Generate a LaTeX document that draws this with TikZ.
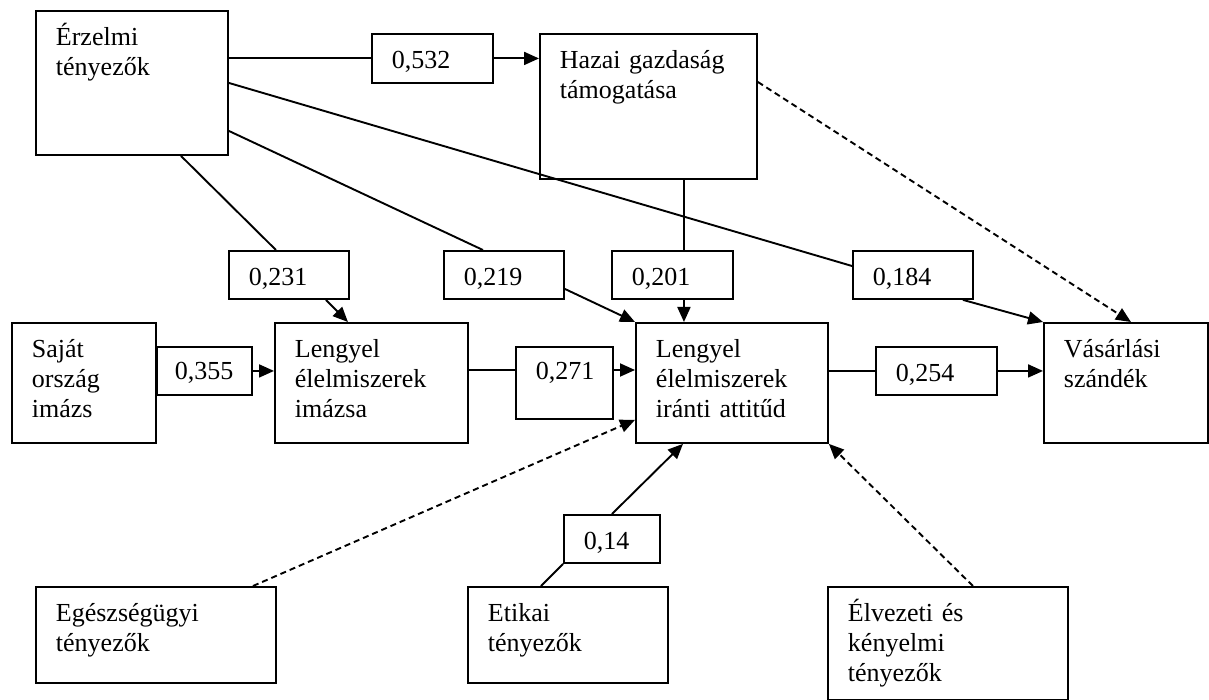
\documentclass[tikz,border=0pt]{standalone}
\usepackage{fontspec}
\setmainfont{Liberation Serif}
\usetikzlibrary{arrows.meta,calc}

\tikzset{
  box/.style={draw, line width=1.9pt, anchor=north west, inner xsep=20pt,
    inner ysep=0pt, align=left, text height=35pt,
    font=\fontsize{26pt}{30pt}\selectfont},
  conn/.style={line width=1.9pt},
  arr/.style={conn, -{Triangle[length=15pt,width=13pt]}},
  dashconn/.style={conn, dash pattern=on 6pt off 4pt},
  dasharr/.style={arr, dash pattern=on 6pt off 4pt},
}

\begin{document}
\begin{tikzpicture}[x=1pt,y=-1pt]
\useasboundingbox (0,0) rectangle (1209,700);

% factor boxes
\node[box, text width=152pt, text depth=109pt] (erz)    at (35,10)   {Érzelmi\\tényezők};
\node[box, text width=177pt, text depth=110pt] (hazai)  at (539,33)  {Hazai gazdaság\\támogatása};
\node[box, text width=104pt, text depth=85pt]  (sajat)  at (11,322)  {Saját\\ország\\imázs};
\node[box, text width=153pt, text depth=85pt]  (limazs) at (274,322) {Lengyel\\élelmiszerek\\imázsa};
\node[box, text width=152pt, text depth=85pt]  (att)    at (635,322) {Lengyel\\élelmiszerek\\iránti attitűd};
\node[box, text width=124pt, text depth=85pt]  (vas)    at (1043,322){Vásárlási\\szándék};
\node[box, text width=200pt, text depth=61pt]  (egesz)  at (35,586)  {Egészségügyi\\tényezők};
\node[box, text width=160pt, text depth=61pt]  (etik)   at (467,586) {Etikai\\tényezők};
\node[box, text width=200pt, text depth=78pt]  (elv)    at (827,586) {Élvezeti és\\kényelmi\\tényezők};

% coefficient boxes
\node[box, text width=81pt, text depth=14pt] (v532) at (371,33)  {0,532};
\node[box, text width=80pt, text depth=13pt] (v231) at (228,250) {0,231};
\node[box, text width=80pt, text depth=13pt] (v219) at (443,250) {0,219};
\node[box, text width=81pt, text depth=13pt] (v201) at (611,250) {0,201};
\node[box, text width=80pt, text depth=13pt] (v184) at (852,250) {0,184};
\node[box, inner xsep=18pt, text width=59pt, text height=33pt, text depth=15pt] (v355) at (156,346) {0,355};
\node[box, text width=57pt, text height=33pt, text depth=39pt] (v271) at (515,346) {0,271};
\node[box, text width=81pt, text depth=13pt] (v254) at (875,346) {0,254};
\node[box, text width=56pt, text depth=13pt] (v14)  at (563,514) {0,14};

% paths from the emotional factors
\draw[conn] (erz.east |- v532.west) -- (v532.west);
\draw[arr]  (v532.east) -- (v532.east -| hazai.west);
\draw[conn] (erz.east) -- ($(v184.north west)+(0,16)$);
\draw[arr]  ($(v184.south)+(50,0)$) -- (vas.north west);
\draw[conn] ($(erz.east)+(0,48)$) -- ($(v219.north)+(-21,0)$);
\draw[arr]  ($(v219.east)+(0,14)$) -- (att.north west);
\draw[conn] ($(erz.south)+(49,0)$) -- ($(v231.north)+(-13,0)$);
\draw[arr]  ($(v231.south)+(37,0)$) -- ($(limazs.north)+(-23.5,0)$);

% support of the domestic economy
\coordinate (hx) at ($(hazai.south)+(35.5,0)$);
\draw[conn] (hx) -- (hx |- v201.north);
\draw[arr]  (hx |- v201.south) -- (hx |- att.north);
\draw[dasharr] ($(hazai.north east)+(0,49)$) -- ($(vas.north)+(5,0)$);

% middle row
\coordinate (r1) at (0,370);
\draw[arr]  (v355.east) -- (v355.east -| limazs.west);
\draw[conn] (limazs.east |- r1) -- (v271.west |- r1);
\draw[arr]  (v271.east |- r1) -- (att.west |- r1);
\draw[conn] (att.east |- v254.west) -- (v254.west);
\draw[arr]  (v254.east) -- (v254.east -| vas.west);

% lower factors
\draw[dasharr] ($(egesz.north)+(97,0)$) -- ($(att.south west)+(0,-24)$);
\draw[conn] ($(etik.north)+(-27,0)$) -- (v14.south west);
\draw[arr]  (v14.north) -- ($(att.south)+(-49,0)$);
\draw[dasharr] ($(elv.north)+(25,0)$) -- (att.south east);
\end{tikzpicture}
\end{document}
